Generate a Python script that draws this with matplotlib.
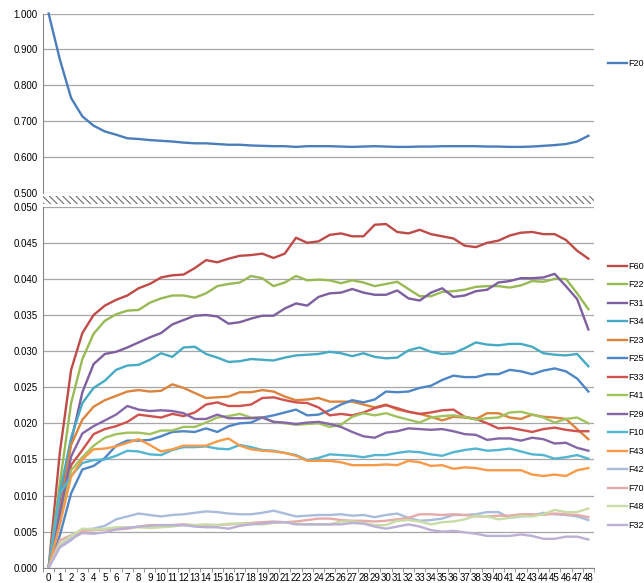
import matplotlib
matplotlib.use("Agg")
import matplotlib.pyplot as plt
import numpy as np
from matplotlib.patches import Rectangle

plt.rcParams['font.family'] = ['Liberation Sans', 'DejaVu Sans']
plt.rcParams['hatch.color'] = '#6e6e6e'
plt.rcParams['hatch.linewidth'] = 0.8

steps = list(range(49))

# top panel
f20 = [1.000, 0.872, 0.765, 0.714, 0.688, 0.672, 0.663, 0.653, 0.651, 0.648,
       0.646, 0.644, 0.641, 0.639, 0.639, 0.637, 0.635, 0.635, 0.633, 0.632,
       0.631, 0.631, 0.629, 0.631, 0.631, 0.631, 0.630, 0.629, 0.630, 0.631,
       0.630, 0.629, 0.629, 0.630, 0.630, 0.631, 0.631, 0.631, 0.631, 0.630,
       0.630, 0.629, 0.629, 0.630, 0.632, 0.634, 0.637, 0.644, 0.660]

# bottom panel
f60 = [0, 0.0160, 0.0274, 0.0325, 0.0350, 0.0363, 0.0371, 0.0377, 0.0387, 0.0393,
       0.0402, 0.0405, 0.0406, 0.0415, 0.0426, 0.0423, 0.0428, 0.0432, 0.0433, 0.0435,
       0.0429, 0.0435, 0.0457, 0.0450, 0.0452, 0.0461, 0.0463, 0.0459, 0.0459, 0.0475,
       0.0476, 0.0465, 0.0463, 0.0468, 0.0462, 0.0459, 0.0456, 0.0446, 0.0444, 0.0450,
       0.0453, 0.0460, 0.0464, 0.0465, 0.0462, 0.0462, 0.0454, 0.0439, 0.0428]
f22 = [0, 0.0117, 0.0228, 0.0289, 0.0324, 0.0342, 0.0351, 0.0356, 0.0357, 0.0367,
       0.0373, 0.0377, 0.0377, 0.0374, 0.0380, 0.0390, 0.0393, 0.0395, 0.0404, 0.0401,
       0.0390, 0.0395, 0.0404, 0.0398, 0.0399, 0.0398, 0.0394, 0.0398, 0.0395, 0.0390,
       0.0393, 0.0396, 0.0386, 0.0376, 0.0376, 0.0382, 0.0383, 0.0385, 0.0389, 0.0390,
       0.0390, 0.0388, 0.0391, 0.0397, 0.0396, 0.0400, 0.0400, 0.0380, 0.0358]
f31 = [0, 0.0090, 0.0175, 0.0243, 0.0282, 0.0296, 0.0299, 0.0305, 0.0312, 0.0319,
       0.0325, 0.0337, 0.0343, 0.0349, 0.0350, 0.0348, 0.0338, 0.0340, 0.0345, 0.0349,
       0.0349, 0.0359, 0.0366, 0.0363, 0.0375, 0.0380, 0.0381, 0.0386, 0.0381, 0.0378,
       0.0378, 0.0384, 0.0373, 0.0370, 0.0381, 0.0387, 0.0375, 0.0377, 0.0383, 0.0385,
       0.0395, 0.0397, 0.0401, 0.0401, 0.0402, 0.0407, 0.0390, 0.0372, 0.0330]
f34 = [0, 0.0104, 0.0180, 0.0228, 0.0249, 0.0259, 0.0274, 0.0280, 0.0281, 0.0288,
       0.0297, 0.0292, 0.0305, 0.0306, 0.0296, 0.0291, 0.0285, 0.0286, 0.0289, 0.0288,
       0.0287, 0.0291, 0.0294, 0.0295, 0.0296, 0.0299, 0.0297, 0.0293, 0.0297, 0.0292,
       0.0290, 0.0291, 0.0301, 0.0305, 0.0299, 0.0296, 0.0297, 0.0304, 0.0312, 0.0309,
       0.0308, 0.0310, 0.0310, 0.0306, 0.0297, 0.0295, 0.0294, 0.0296, 0.0279]
f23 = [0, 0.0080, 0.0170, 0.0205, 0.0223, 0.0232, 0.0238, 0.0244, 0.0246, 0.0244,
       0.0245, 0.0254, 0.0249, 0.0242, 0.0235, 0.0236, 0.0237, 0.0243, 0.0243, 0.0246,
       0.0244, 0.0237, 0.0232, 0.0233, 0.0235, 0.0230, 0.0230, 0.0230, 0.0226, 0.0222,
       0.0226, 0.0219, 0.0216, 0.0213, 0.0209, 0.0204, 0.0209, 0.0208, 0.0206, 0.0214,
       0.0214, 0.0208, 0.0206, 0.0212, 0.0209, 0.0208, 0.0206, 0.0192, 0.0178]
f25 = [0, 0.0045, 0.0103, 0.0136, 0.0141, 0.0152, 0.0169, 0.0176, 0.0176, 0.0177,
       0.0182, 0.0188, 0.0189, 0.0188, 0.0193, 0.0188, 0.0196, 0.0200, 0.0201, 0.0208,
       0.0211, 0.0215, 0.0219, 0.0211, 0.0212, 0.0218, 0.0226, 0.0232, 0.0229, 0.0233,
       0.0244, 0.0243, 0.0244, 0.0249, 0.0252, 0.0260, 0.0266, 0.0264, 0.0264, 0.0268,
       0.0268, 0.0274, 0.0272, 0.0268, 0.0273, 0.0276, 0.0272, 0.0262, 0.0244]
f33 = [0, 0.0070, 0.0142, 0.0163, 0.0185, 0.0192, 0.0196, 0.0202, 0.0212, 0.0210,
       0.0208, 0.0213, 0.0210, 0.0215, 0.0226, 0.0229, 0.0224, 0.0224, 0.0226, 0.0235,
       0.0236, 0.0232, 0.0229, 0.0228, 0.0222, 0.0211, 0.0213, 0.0211, 0.0215, 0.0221,
       0.0225, 0.0221, 0.0216, 0.0213, 0.0215, 0.0218, 0.0219, 0.0209, 0.0206, 0.0200,
       0.0193, 0.0194, 0.0191, 0.0188, 0.0192, 0.0194, 0.0191, 0.0189, 0.0189]
f41 = [0, 0.0065, 0.0135, 0.0153, 0.0169, 0.0180, 0.0185, 0.0187, 0.0187, 0.0185,
       0.0190, 0.0190, 0.0195, 0.0195, 0.0201, 0.0208, 0.0210, 0.0213, 0.0208, 0.0208,
       0.0202, 0.0200, 0.0198, 0.0199, 0.0200, 0.0195, 0.0198, 0.0209, 0.0214, 0.0211,
       0.0214, 0.0209, 0.0205, 0.0201, 0.0208, 0.0210, 0.0211, 0.0209, 0.0205, 0.0207,
       0.0208, 0.0215, 0.0216, 0.0212, 0.0208, 0.0201, 0.0206, 0.0208, 0.0200]
f29 = [0, 0.0075, 0.0154, 0.0186, 0.0196, 0.0204, 0.0212, 0.0224, 0.0219, 0.0217,
       0.0218, 0.0217, 0.0214, 0.0206, 0.0206, 0.0212, 0.0207, 0.0207, 0.0207, 0.0208,
       0.0202, 0.0201, 0.0199, 0.0201, 0.0202, 0.0199, 0.0195, 0.0188, 0.0182, 0.0180,
       0.0187, 0.0189, 0.0193, 0.0192, 0.0191, 0.0192, 0.0189, 0.0185, 0.0184, 0.0177,
       0.0179, 0.0179, 0.0176, 0.0180, 0.0178, 0.0172, 0.0173, 0.0166, 0.0162]
f10 = [0, 0.0103, 0.0127, 0.0145, 0.0149, 0.0150, 0.0155, 0.0162, 0.0161, 0.0157,
       0.0156, 0.0163, 0.0167, 0.0167, 0.0168, 0.0165, 0.0164, 0.0170, 0.0167, 0.0163,
       0.0162, 0.0159, 0.0156, 0.0149, 0.0152, 0.0157, 0.0156, 0.0155, 0.0153, 0.0156,
       0.0156, 0.0159, 0.0161, 0.0160, 0.0157, 0.0155, 0.0160, 0.0163, 0.0165, 0.0162,
       0.0163, 0.0165, 0.0161, 0.0157, 0.0156, 0.0151, 0.0153, 0.0156, 0.0151]
f43 = [0, 0.0060, 0.0126, 0.0150, 0.0164, 0.0165, 0.0168, 0.0173, 0.0178, 0.0170,
       0.0161, 0.0164, 0.0169, 0.0169, 0.0169, 0.0175, 0.0179, 0.0169, 0.0164, 0.0162,
       0.0161, 0.0159, 0.0155, 0.0148, 0.0148, 0.0148, 0.0146, 0.0142, 0.0142, 0.0142,
       0.0143, 0.0142, 0.0148, 0.0146, 0.0141, 0.0142, 0.0137, 0.0139, 0.0138, 0.0135,
       0.0135, 0.0135, 0.0135, 0.0129, 0.0127, 0.0129, 0.0127, 0.0135, 0.0138]
f42 = [0, 0.0028, 0.0038, 0.0053, 0.0054, 0.0058, 0.0067, 0.0071, 0.0075, 0.0073,
       0.0071, 0.0073, 0.0074, 0.0076, 0.0078, 0.0077, 0.0075, 0.0074, 0.0074, 0.0076,
       0.0079, 0.0075, 0.0071, 0.0072, 0.0073, 0.0073, 0.0074, 0.0072, 0.0073, 0.0070,
       0.0073, 0.0075, 0.0069, 0.0065, 0.0066, 0.0068, 0.0073, 0.0073, 0.0074, 0.0077,
       0.0077, 0.0069, 0.0071, 0.0072, 0.0076, 0.0074, 0.0073, 0.0071, 0.0066]
f70 = [0, 0.0038, 0.0045, 0.0051, 0.0052, 0.0053, 0.0053, 0.0054, 0.0057, 0.0059,
       0.0059, 0.0059, 0.0060, 0.0059, 0.0059, 0.0059, 0.0060, 0.0061, 0.0062, 0.0063,
       0.0064, 0.0063, 0.0064, 0.0066, 0.0068, 0.0068, 0.0066, 0.0065, 0.0065, 0.0064,
       0.0065, 0.0067, 0.0069, 0.0074, 0.0074, 0.0073, 0.0074, 0.0073, 0.0071, 0.0071,
       0.0072, 0.0072, 0.0074, 0.0074, 0.0073, 0.0075, 0.0074, 0.0073, 0.0070]
f48 = [0, 0.0033, 0.0044, 0.0054, 0.0053, 0.0054, 0.0056, 0.0056, 0.0056, 0.0055,
       0.0056, 0.0057, 0.0059, 0.0059, 0.0060, 0.0059, 0.0061, 0.0061, 0.0061, 0.0060,
       0.0062, 0.0063, 0.0061, 0.0060, 0.0060, 0.0060, 0.0064, 0.0064, 0.0062, 0.0059,
       0.0059, 0.0065, 0.0066, 0.0064, 0.0060, 0.0063, 0.0064, 0.0067, 0.0072, 0.0071,
       0.0067, 0.0069, 0.0072, 0.0071, 0.0074, 0.0080, 0.0077, 0.0077, 0.0082]
f32 = [0, 0.0029, 0.0040, 0.0048, 0.0047, 0.0049, 0.0053, 0.0055, 0.0057, 0.0058,
       0.0059, 0.0059, 0.0059, 0.0057, 0.0056, 0.0056, 0.0054, 0.0058, 0.0060, 0.0061,
       0.0063, 0.0063, 0.0060, 0.0060, 0.0060, 0.0060, 0.0060, 0.0062, 0.0061, 0.0057,
       0.0054, 0.0057, 0.0060, 0.0057, 0.0052, 0.0050, 0.0051, 0.0049, 0.0047, 0.0044,
       0.0044, 0.0044, 0.0046, 0.0044, 0.0040, 0.0040, 0.0043, 0.0043, 0.0039]

names = ['F60', 'F22', 'F31', 'F34', 'F23', 'F25', 'F33', 'F41',
         'F29', 'F10', 'F43', 'F42', 'F70', 'F48', 'F32']
series = [f60, f22, f31, f34, f23, f25, f33, f41,
          f29, f10, f43, f42, f70, f48, f32]
colors = ['#BE4B48', '#98B954', '#7D5FA0', '#46AAC5', '#DB843D', '#4F86C6',
          '#D0524E', '#A2C25E', '#8567A8', '#52B5D1', '#F89A48', '#A9BCDC',
          '#E5AAA9', '#C8DCA5', '#BCB0D4']

W, H = 644, 583
fig = plt.figure(figsize=(W / 100, H / 100), dpi=100)

x0, x1 = 43, 594
ax_top = fig.add_axes([x0 / W, 1 - 193.3 / H, (x1 - x0) / W, (193.3 - 13.5) / H])
ax_bot = fig.add_axes([x0 / W, 1 - 567.7 / H, (x1 - x0) / W, (567.7 - 206.7) / H])

grid_c = '#a6a6a6'
axis_c = '#868686'
lw = 1.7

ax_top.plot(steps, f20, color='#4A7EBB', lw=lw, label='F20', clip_on=False,
            solid_joinstyle='round')
for vals, name, c in zip(series, names, colors):
    ax_bot.plot(steps, vals, color=c, lw=lw, label=name, solid_joinstyle='round')

ax_top.set_ylim(0.5, 1.0)
ax_top.set_yticks(np.arange(0.5, 1.0001, 0.1))
ax_bot.set_ylim(0, 0.05)
ax_bot.set_yticks(np.arange(0, 0.05001, 0.005))

for ax in (ax_top, ax_bot):
    ax.set_xlim(-0.5, 48.5)
    ax.yaxis.set_major_formatter(matplotlib.ticker.FormatStrFormatter('%.3f'))
    ax.grid(axis='y', color=grid_c, lw=0.9)
    ax.set_axisbelow(True)
    for s in ('top', 'right'):
        ax.spines[s].set_visible(False)
    ax.spines['left'].set_color(axis_c)
    ax.tick_params(axis='y', length=0, pad=4, labelsize=7, colors='#000000')

ax_top.spines['bottom'].set_visible(False)
ax_top.set_xticks([])

ax_bot.spines['bottom'].set_color(axis_c)
ax_bot.set_xticks(steps)
ax_bot.set_xticklabels([str(s) for s in steps])
ax_bot.set_xticks(np.arange(-0.5, 48.6, 1), minor=True)
ax_bot.tick_params(axis='x', which='major', length=0, pad=4, labelsize=7)
ax_bot.tick_params(axis='x', which='minor', length=3, color=axis_c)

# axis break strip
ax_brk = fig.add_axes([x0 / W, 1 - 204 / H, (x1 - x0) / W, 8.5 / H])
ax_brk.set_axis_off()
ax_brk.add_patch(Rectangle((0, 0), 1, 1, transform=ax_brk.transAxes,
                           facecolor='white', edgecolor='#6e6e6e',
                           hatch='\\\\\\\\\\', lw=0))

leg_kw = dict(frameon=False, fontsize=6.5, handlelength=2.1, handletextpad=0.1,
              borderpad=0, borderaxespad=0, loc='upper left')
ax_top.legend(bbox_to_anchor=(608 / W, 1 - 59 / H),
              bbox_transform=fig.transFigure, **leg_kw)
ax_bot.legend(bbox_to_anchor=(608 / W, 1 - 262 / H),
              bbox_transform=fig.transFigure, labelspacing=1.05, **leg_kw)

fig.savefig('out.png', dpi=100)
